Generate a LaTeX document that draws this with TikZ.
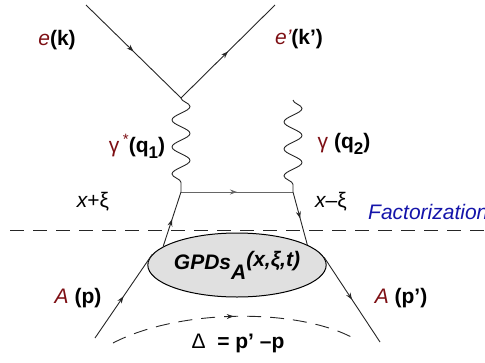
\documentclass[tikz,border=0pt]{standalone}
\usepackage{fontspec}
\setmainfont{Liberation Sans}
\usepackage{xcolor}
\usetikzlibrary{shapes.geometric,arrows.meta,decorations.pathmorphing,decorations.markings}
\definecolor{darkred}{RGB}{125,15,20}
\definecolor{factblue}{RGB}{20,20,170}

\begin{document}
\begin{tikzpicture}[
    x=1pt, y=-1pt,
    midarrow/.style={postaction={decorate}, decoration={markings, mark=at position 0.5 with {\arrow{Stealth[length=7pt,width=5pt]}}}},
    fermion/.style={draw=black!85, line width=0.9pt, midarrow},
    photon/.style={draw=black!85, line width=0.9pt, decorate, decoration={snake, segment length=27pt, amplitude=9pt}},
    cut/.style={draw=black!85, line width=0.9pt, dash pattern=on 14pt off 9pt},
    blob/.style={ellipse, draw, line width=1pt, fill=black!12, minimum width=170pt, minimum height=64pt, inner sep=0pt},
    lbl/.style={font=\fontsize{21}{24}\selectfont, inner sep=0pt}
]
    \useasboundingbox (0,0) rectangle (485,362);

    % electron vertex
    \coordinate (ein) at (86,5);
    \coordinate (eout) at (275,5);
    \coordinate (v1) at (181,98);
    \draw[fermion] (ein) -- (v1);
    \draw[fermion] (v1) -- (eout);

    % photons
    \coordinate (q1b) at (181,192);
    \coordinate (q2t) at (293,100);
    \coordinate (q2b) at (293,192);
    \draw[photon] (v1) -- (q1b);
    \draw[photon] (q2t) -- (q2b);

    % hadron blob
    \node[blob] (gpd) at (237,265) {\fontsize{21}{24}\selectfont\bfseries\itshape GPDs\raisebox{-10pt}{A}\raisebox{3pt}{(x,ξ,t)}};

    % quark lines
    \draw[fermion, draw=black!60] (q1b) -- (q2b);
    \draw[fermion] (gpd.166) -- (q1b);
    \draw[fermion] (q2b) -- (gpd.16);

    % nucleon in and out
    \coordinate (pin) at (95,338);
    \coordinate (pout) at (380,342);
    \draw[fermion] (pin) -- (gpd.173);
    \draw[fermion] (gpd.5) -- (pout);

    % factorization line
    \coordinate (fl) at (10,230);
    \coordinate (fr) at (490,230);
    \draw[cut] (fl) -- (fr);
    \node[lbl, anchor=base west, text=factblue, font=\fontsize{21}{24}\selectfont\itshape] (fact) at (368,219) {Factorization};

    % momentum transfer
    \coordinate (dl) at (113,343);
    \coordinate (dr) at (355,339);
    \draw[cut, midarrow] (dl) .. controls (180,308) and (300,308) .. (dr);
    \node[lbl] (delta) at (238,343) {Δ\; \textbf{= p’ –p}};

    % labels
    \node[lbl] (ek) at (57,40) {{\color{darkred}\itshape e}\textbf{(k)}};
    \node[lbl] (ekp) at (299,39) {{\color{darkred}\itshape e’}\textbf{(k’)}};
    \node[lbl] (g1) at (137,146) {{\color{darkred}γ\,\raisebox{8pt}{\fontsize{15}{15}\selectfont *}}\textbf{(q\raisebox{-6pt}{\fontsize{17}{17}\selectfont 1})}};
    \node[lbl] (g2) at (344,144) {{\color{darkred}γ}\;\textbf{(q\raisebox{-6pt}{\fontsize{17}{17}\selectfont 2})}};
    \node[lbl] (xp) at (93,202) {\itshape x\upshape+ξ};
    \node[lbl] (xm) at (331,202) {\itshape x\upshape–ξ};
    \node[lbl] (ap) at (78,298) {{\color{darkred}\itshape A} \textbf{(p)}};
    \node[lbl] (app) at (401,298) {{\color{darkred}\itshape A} \textbf{(p’)}};
\end{tikzpicture}
\end{document}
